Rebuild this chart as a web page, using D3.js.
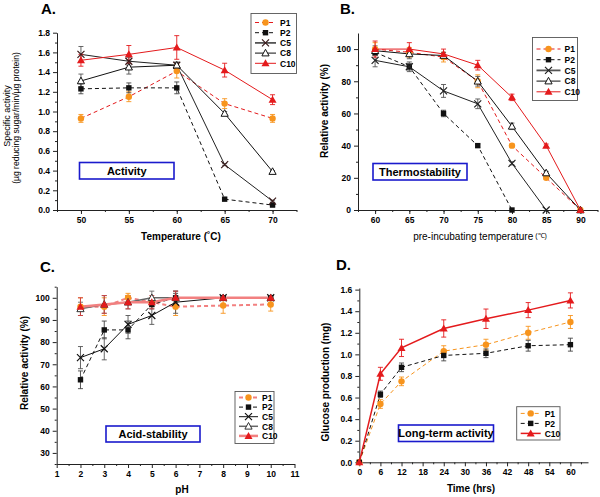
<!doctype html>
<html>
  <head>
    <meta charset="utf-8">
    <title>Enzyme activity panels</title>
    <script src="https://cdnjs.cloudflare.com/ajax/libs/d3/7.8.5/d3.min.js"></script>
    <style>
    body { margin: 0; background: #fff; }
    svg { font-family: 'Liberation Sans', Arial, sans-serif; }
    .tick text { font-size: 8.5px; font-weight: bold; }
    </style>
  </head>
  <body>
    <div id="chart"></div>
    <script>

      // ---- data ----
      // A. activity vs temperature
      const tempA = [50, 55, 60, 65, 70];
      const actP1 = [0.93, 1.15, 1.41, 1.08, 0.93],   actP1Err = [0.04, 0.05, 0.07, 0.05, 0.04];
      const actP2 = [1.23, 1.24, 1.24, 0.11, 0.05],   actP2Err = [0.05, 0.05, 0.06, 0.01, 0.01];
      const actC5 = [1.58, 1.51, 1.47, 0.46, 0.09],   actC5Err = [0.08, 0.04, 0.03, 0.01, 0.01];
      const actC8 = [1.31, 1.45, 1.47, 0.98, 0.39],   actC8Err = [0.07, 0.07, 0.03, 0.02, 0.01];
      const actC10 = [1.52, 1.58, 1.65, 1.42, 1.12],  actC10Err = [0.06, 0.09, 0.12, 0.07, 0.05];

      // B. thermostability
      const tempB = [60, 65, 70, 75, 80, 85, 90];
      const thP1 = [100, 98, 95, 80, 40, 20, 0],  thP1Err = [4, 3, 3, 4, 1, 1, 0];
      const thP2 = [98, 89, 60, 40, 0],           thP2Err = [2, 2, 2, 1, 0];
      const thC5 = [93, 89, 74, 66, 29, 0],       thC5Err = [4, 3, 4, 3, 1, 0];
      const thC8 = [99, 97, 96, 80, 52, 23, 0],   thC8Err = [3, 3, 2, 3, 2, 1, 0];
      const thC10 = [100, 100, 97, 90, 70, 40, 0], thC10Err = [5, 4, 3, 3, 2, 1, 0];

      // C. acid-stability
      const phC = [2, 3, 4, 5, 6, 8, 10];
      const acP1 = [96, 96, 100, 98, 96, 96.5, 97], acP1Err = [4, 4, 2, 2, 4, 3.5, 3];
      const acP2 = [63, 85.5, 85.5, 97, 100, 100, 100], acP2Err = [4, 4, 4, 2, 2, 1, 1];
      const acC5 = [73, 77, 88, 92, 98, 100, 100], acC5Err = [5, 5, 4, 4, 5, 1, 1];
      const acC8 = [95, 97, 98, 100, 100, 100, 100], acC8Err = [3, 4, 3, 3, 3, 1, 1];
      const acC10 = [96, 97, 98, 98, 100, 100, 100], acC10Err = [4, 4, 3, 3, 3, 1, 1];

      // D. long-term activity
      const timeD = [0, 6, 12, 24, 36, 48, 60];
      const ltP1 = [0, 0.54, 0.75, 1.03, 1.09, 1.20, 1.30],  ltP1Err = [0, 0.04, 0.04, 0.05, 0.05, 0.06, 0.06];
      const ltP2 = [0, 0.63, 0.88, 0.99, 1.01, 1.08, 1.09],  ltP2Err = [0, 0.03, 0.04, 0.05, 0.04, 0.05, 0.06];
      const ltC10 = [0, 0.82, 1.06, 1.24, 1.33, 1.41, 1.50], ltC10Err = [0, 0.06, 0.08, 0.08, 0.09, 0.07, 0.07];

      // tick labels
      const ticksAx = [50, 55, 60, 65, 70], ticksAy = d3.range(0, 1.81, 0.2);
      const ticksBx = [60, 65, 70, 75, 80, 85, 90], ticksBy = [0, 20, 40, 60, 80, 100];
      const ticksCx = d3.range(1, 12), ticksCy = [30, 40, 50, 60, 70, 80, 90, 100];
      const ticksDx = [0, 6, 12, 18, 24, 30, 36, 42, 48, 54, 60], ticksDy = d3.range(0, 1.61, 0.2);

      const ORANGE = '#f7941d', RED = '#e41a1c', PINK = '#f28080';

      const svg = d3.select('#chart').append('svg')
        .attr('width', 600).attr('height', 497);

      function zip(xs, ys, es) {
        return ys.map((v, i) => ({x: xs[i], y: v, e: es[i]}));
      }

      function marker(sel, kind, color) {
        if (kind === 'circle') {
          sel.append('circle').attr('r', 3.2).attr('fill', color);
        } else if (kind === 'square') {
          sel.append('rect').attr('x', -2.7).attr('y', -2.7).attr('width', 5.4).attr('height', 5.4).attr('fill', color);
        } else if (kind === 'x') {
          sel.append('path').attr('d', 'M-3.5,-3.5L3.5,3.5M-3.5,3.5L3.5,-3.5')
            .attr('stroke', color).attr('stroke-width', 1.2);
        } else if (kind === 'otri') {
          sel.append('path').attr('d', 'M0,-3.8L3.6,2.8L-3.6,2.8Z')
            .attr('fill', '#fff').attr('stroke', color).attr('stroke-width', 1);
        } else if (kind === 'tri') {
          sel.append('path').attr('d', 'M0,-4L4,3L-4,3Z').attr('fill', color);
        }
      }

      function drawPanel(p) {
        const x = d3.scaleLinear().domain(p.xDomain).range([p.left, p.right]);
        const y = d3.scaleLinear().domain(p.yDomain).range([p.bottom, p.top]);
        const g = svg.append('g');

        // minor ticks
        g.append('g').attr('transform', `translate(0,${p.bottom})`)
          .call(d3.axisBottom(x).tickValues(p.xMinor).tickSize(2).tickFormat(''))
          .call(a => a.select('.domain').remove());
        g.append('g').attr('transform', `translate(${p.left},0)`)
          .call(d3.axisLeft(y).tickValues(p.yMinor).tickSize(2).tickFormat(''))
          .call(a => a.select('.domain').remove());
        // major axes
        g.append('g').attr('transform', `translate(0,${p.bottom})`)
          .call(d3.axisBottom(x).tickValues(p.xTicks).tickSize(4).tickSizeOuter(0).tickPadding(3).tickFormat(p.xFmt));
        g.append('g').attr('transform', `translate(${p.left},0)`)
          .call(d3.axisLeft(y).tickValues(p.yTicks).tickSize(4).tickSizeOuter(0).tickPadding(3).tickFormat(p.yFmt));
        g.selectAll('.domain, .tick line').attr('stroke', '#222');

        // panel letter
        g.append('text').attr('x', p.letterX).attr('y', p.letterY)
          .attr('font-size', 15).attr('font-weight', 'bold').text(p.letter);

        // axis titles
        const xt = g.append('text').attr('x', p.xTitleX).attr('y', p.xTitleY)
          .attr('text-anchor', 'middle').attr('font-size', 10)
          .attr('font-weight', p.xTitleBold ? 'bold' : 'normal').text(p.xTitle);
        if (p.xTitleSup) {
          xt.append('tspan').attr('font-size', 7).attr('dy', -2).text(' ' + p.xTitleSup);
        }
        p.yTitles.forEach(t => {
          g.append('text')
            .attr('transform', `translate(${t.x},${t.y}) rotate(-90)`)
            .attr('text-anchor', 'middle').attr('font-size', t.size)
            .attr('font-weight', t.bold ? 'bold' : 'normal').text(t.text);
        });

        // label box
        const b = p.box;
        g.append('rect').attr('x', b.x).attr('y', b.y).attr('width', b.w).attr('height', b.h)
          .attr('fill', '#fff').attr('stroke', '#1a1acc').attr('stroke-width', 1.6);
        g.append('text').attr('x', b.x + b.w / 2).attr('y', b.y + b.h / 2 + 4)
          .attr('text-anchor', 'middle').attr('font-size', 11).attr('font-weight', 'bold').text(b.text);

        const line = d3.line().x(d => x(d.x)).y(d => y(d.y));

        p.series.forEach(s => {
          g.append('path').datum(s.data).attr('d', line).attr('fill', 'none')
            .attr('stroke', s.line).attr('stroke-width', s.width || 1)
            .attr('stroke-dasharray', s.dash ? '4,3' : null);
        });
        p.series.forEach(s => {
          const eb = g.append('g').attr('stroke', s.err).attr('stroke-width', 0.9);
          s.data.filter(d => d.e > 0).forEach(d => {
            eb.append('line').attr('x1', x(d.x)).attr('x2', x(d.x)).attr('y1', y(d.y - d.e)).attr('y2', y(d.y + d.e));
            eb.append('line').attr('x1', x(d.x) - 2.5).attr('x2', x(d.x) + 2.5).attr('y1', y(d.y - d.e)).attr('y2', y(d.y - d.e));
            eb.append('line').attr('x1', x(d.x) - 2.5).attr('x2', x(d.x) + 2.5).attr('y1', y(d.y + d.e)).attr('y2', y(d.y + d.e));
          });
        });
        p.series.forEach(s => {
          s.data.forEach(d => {
            marker(g.append('g').attr('transform', `translate(${x(d.x)},${y(d.y)})`), s.marker, s.mcolor);
          });
        });

        // legend
        const L = p.legend;
        g.append('rect').attr('x', L.x).attr('y', L.y).attr('width', L.w).attr('height', L.h)
          .attr('fill', '#fff').attr('stroke', '#555').attr('stroke-width', 0.9);
        p.series.forEach((s, i) => {
          const yy = L.y + L.first + i * L.step;
          g.append('line').attr('x1', L.x + 4).attr('x2', L.x + 4 + L.len).attr('y1', yy).attr('y2', yy)
            .attr('stroke', s.legLine || s.line).attr('stroke-width', s.legWidth || s.width || 1)
            .attr('stroke-dasharray', s.dash ? '4,3' : null);
          marker(g.append('g').attr('transform', `translate(${L.x + 4 + L.len / 2},${yy})`), s.marker, s.mcolor);
          g.append('text').attr('x', L.x + 8 + L.len).attr('y', yy + 3.2)
            .attr('font-size', 8.5).attr('font-weight', 'bold').text(s.name);
        });
      }

      const f1 = d3.format('.1f');

      drawPanel({
        letter: 'A.', letterX: 41, letterY: 14,
        left: 57, right: 296.5, top: 32.7, bottom: 210,
        xDomain: [47.5, 72.5], yDomain: [0, 1.8],
        xTicks: ticksAx, yTicks: ticksAy, xFmt: d3.format('d'), yFmt: f1,
        xMinor: d3.range(47.5, 72.6, 2.5), yMinor: d3.range(0.1, 1.8, 0.2),
        xTitle: 'Temperature (˚C)', xTitleBold: true, xTitleX: 181, xTitleY: 240,
        yTitles: [
          {text: 'Specific activity', x: 10, y: 116, size: 9},
          {text: '(µg reducing sugar/min/µg protein)', x: 19, y: 118, size: 8.6}
        ],
        box: {x: 79.5, y: 162.5, w: 94.5, h: 16.5, text: 'Activity'},
        legend: {x: 251, y: 13.5, w: 45.5, h: 60, first: 9, step: 10.2, len: 21},
        series: [
          {name: 'P1', data: zip(tempA, actP1, actP1Err), line: RED, dash: true, marker: 'circle', mcolor: ORANGE, err: ORANGE},
          {name: 'P2', data: zip(tempA, actP2, actP2Err), line: '#111', dash: true, marker: 'square', mcolor: '#111', err: '#444'},
          {name: 'C5', data: zip(tempA, actC5, actC5Err), line: '#222', marker: 'x', mcolor: '#3a1a1a', err: '#555', legLine: '#555', legWidth: 1.8},
          {name: 'C8', data: zip(tempA, actC8, actC8Err), line: '#111', marker: 'otri', mcolor: '#111', err: '#555'},
          {name: 'C10', data: zip(tempA, actC10, actC10Err), line: RED, marker: 'tri', mcolor: RED, err: RED}
        ]
      });

      drawPanel({
        letter: 'B.', letterX: 340, letterY: 14,
        left: 358, right: 597.5, top: 33, bottom: 210,
        xDomain: [57.5, 92.5], yDomain: [0, 110],
        xTicks: ticksBx, yTicks: ticksBy, xFmt: d3.format('d'), yFmt: d3.format('d'),
        xMinor: d3.range(57.5, 92.6, 2.5), yMinor: d3.range(10, 110, 20),
        xTitle: 'pre-incubating temperature', xTitleSup: '(℃)', xTitleBold: false, xTitleX: 480, xTitleY: 240,
        yTitles: [{text: 'Relative activity (%)', x: 328, y: 111, size: 10, bold: true}],
        box: {x: 373, y: 163.5, w: 94, h: 16.5, text: 'Thermostability'},
        legend: {x: 532.5, y: 37.5, w: 45, h: 63, first: 11.5, step: 10.7, len: 24},
        series: [
          {name: 'P1', data: zip(tempB, thP1, thP1Err), line: RED, dash: true, marker: 'circle', mcolor: ORANGE, err: ORANGE},
          {name: 'P2', data: zip(tempB, thP2, thP2Err), line: '#111', dash: true, marker: 'square', mcolor: '#111', err: '#444'},
          {name: 'C5', data: zip(tempB, thC5, thC5Err), line: '#222', marker: 'x', mcolor: '#222', err: '#555', legLine: '#555', legWidth: 1.8},
          {name: 'C8', data: zip(tempB, thC8, thC8Err), line: '#111', marker: 'otri', mcolor: '#111', err: '#555'},
          {name: 'C10', data: zip(tempB, thC10, thC10Err), line: RED, marker: 'tri', mcolor: RED, err: RED}
        ]
      });

      drawPanel({
        letter: 'C.', letterX: 40, letterY: 272,
        left: 56.7, right: 294.5, top: 286.7, bottom: 464,
        xDomain: [1, 11], yDomain: [25, 105],
        xTicks: ticksCx, yTicks: ticksCy, xFmt: d3.format('d'), yFmt: d3.format('d'),
        xMinor: d3.range(1.5, 11, 1), yMinor: d3.range(25, 105.1, 10),
        xTitle: 'pH', xTitleBold: true, xTitleX: 182, xTitleY: 493,
        yTitles: [{text: 'Relative activity (%)', x: 28, y: 363, size: 10, bold: true}],
        box: {x: 106, y: 426, w: 94, h: 16, text: 'Acid-stability'},
        legend: {x: 235, y: 391.5, w: 39, h: 52, first: 6, step: 9.6, len: 19},
        series: [
          {name: 'P1', data: zip(phC, acP1, acP1Err), line: PINK, width: 2, dash: true, marker: 'circle', mcolor: ORANGE, err: ORANGE},
          {name: 'P2', data: zip(phC, acP2, acP2Err), line: '#111', dash: true, marker: 'square', mcolor: '#111', err: '#444'},
          {name: 'C5', data: zip(phC, acC5, acC5Err), line: '#111', marker: 'x', mcolor: '#111', err: '#555'},
          {name: 'C8', data: zip(phC, acC8, acC8Err), line: '#666', width: 1.5, marker: 'otri', mcolor: '#333', err: '#666'},
          {name: 'C10', data: zip(phC, acC10, acC10Err), line: PINK, width: 2.5, marker: 'tri', mcolor: RED, err: '#d04040'}
        ]
      });

      drawPanel({
        letter: 'D.', letterX: 336, letterY: 270,
        left: 359.3, right: 588, top: 288, bottom: 462.3,
        xDomain: [0, 65], yDomain: [0, 1.615],
        xTicks: ticksDx, yTicks: ticksDy, xFmt: d3.format('d'), yFmt: f1,
        xMinor: d3.range(3, 65, 6), yMinor: d3.range(0.1, 1.6, 0.2),
        xTitle: 'Time (hrs)', xTitleBold: true, xTitleX: 471, xTitleY: 492,
        yTitles: [{text: 'Glucose production (mg)', x: 329, y: 382, size: 10, bold: true}],
        box: {x: 398.5, y: 425, w: 95, h: 16.5, text: 'Long-term activity'},
        legend: {x: 516.7, y: 406.7, w: 43.3, h: 33.3, first: 6.7, step: 10, len: 20},
        series: [
          {name: 'P1', data: zip(timeD, ltP1, ltP1Err), line: ORANGE, dash: true, marker: 'circle', mcolor: ORANGE, err: ORANGE},
          {name: 'P2', data: zip(timeD, ltP2, ltP2Err), line: '#111', dash: true, marker: 'square', mcolor: '#111', err: '#444'},
          {name: 'C10', data: zip(timeD, ltC10, ltC10Err), line: RED, width: 1.5, marker: 'tri', mcolor: RED, err: RED}
        ]
      });

    </script>
  </body>
</html>
